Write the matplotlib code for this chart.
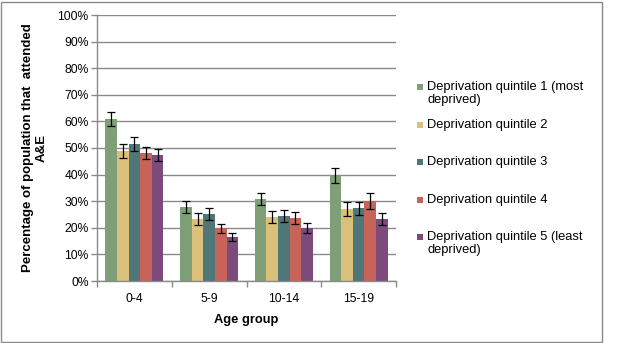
import numpy as np
import matplotlib.pyplot as plt
from matplotlib.patches import Rectangle

plt.rcParams['font.family'] = ['Liberation Sans', 'DejaVu Sans']

# Data
age_groups = ['0-4', '5-9', '10-14', '15-19']
series = ['Deprivation quintile 1 (most\ndeprived)',
          'Deprivation quintile 2',
          'Deprivation quintile 3',
          'Deprivation quintile 4',
          'Deprivation quintile 5 (least\ndeprived)']
q1 = [60.9, 27.8, 30.8, 39.5]
q2 = [48.9, 23.3, 24.0, 27.1]
q3 = [51.5, 25.2, 24.4, 27.4]
q4 = [48.1, 19.9, 23.7, 30.0]
q5 = [47.4, 16.5, 19.9, 23.3]
err1 = [2.7, 2.1, 2.4, 2.8]
err2 = [2.6, 2.1, 2.3, 2.7]
err3 = [2.7, 2.1, 2.3, 2.4]
err4 = [2.4, 1.7, 2.1, 2.9]
err5 = [2.4, 1.6, 1.9, 2.1]
values = [q1, q2, q3, q4, q5]
errors = [err1, err2, err3, err4, err5]
colors = ['#7f9f79', '#dbc07a', '#4f7679', '#c8635a', '#7d4b7b']

W, H = 627, 343
fig = plt.figure(figsize=(W / 100, H / 100), dpi=100)
ax = fig.add_axes([97 / W, 1 - 281 / H, (396 - 97) / W, (281 - 15) / H])

# chart border
fig.patches.append(Rectangle((0.5 / W, 1.5 / H), 601.5 / W, 339.5 / H,
                             transform=fig.transFigure, fill=False,
                             edgecolor='#8a8a8a', linewidth=1.0))

x = np.arange(len(age_groups))
bw = 0.155
for i, (vals, errs, c) in enumerate(zip(values, errors, colors)):
    pos = x + (i - 2) * bw
    ax.bar(pos, vals, bw, color=c, zorder=2)
    ax.errorbar(pos, vals, yerr=errs, fmt='none', ecolor='black',
                elinewidth=0.9, capsize=2.6, capthick=0.9, zorder=3)

ax.set_xlim(-0.5, len(age_groups) - 0.5)
ax.set_ylim(0, 100)
ax.set_yticks(np.arange(0, 101, 10))
ax.set_yticklabels([f'{v}%' for v in range(0, 101, 10)], fontsize=8.7)
ax.set_xticks(x)
ax.set_xticklabels(age_groups, fontsize=8.7)
ax.set_xticks(np.arange(-0.5, len(age_groups), 1), minor=True)
ax.tick_params(axis='x', which='major', length=0, pad=9)
ax.tick_params(axis='x', which='minor', length=4, color='#8a8a8a', width=1)
ax.tick_params(axis='y', length=4, color='#8a8a8a', width=1, pad=2)
ax.yaxis.grid(True, color='#8a8a8a', linewidth=1.0, zorder=0)
ax.set_axisbelow(True)
for s in ['top', 'right']:
    ax.spines[s].set_visible(False)
for s in ['left', 'bottom']:
    ax.spines[s].set_color('#8a8a8a')
    ax.spines[s].set_linewidth(1.0)

ax.set_xlabel('Age group', fontsize=9.3, fontweight='bold', labelpad=6)
ax.set_ylabel('Percentage of population that  attended\nA&E', fontsize=9.5,
              fontweight='bold', labelpad=7, linespacing=1.25)

# legend, drawn manually so the swatch sits on the first text line
ly = [87, 125, 162, 200, 237]
for name, c, yy in zip(series, colors, ly):
    fig.patches.append(Rectangle((417 / W, 1 - (yy + 3) / H), 6 / W, 6 / H,
                                 transform=fig.transFigure, facecolor=c,
                                 edgecolor='none'))
    fig.text(427 / W, 1 - (yy - 6) / H, name, fontsize=9.3, va='top',
             ha='left', linespacing=1.15)

fig.savefig('out.png', dpi=100)
